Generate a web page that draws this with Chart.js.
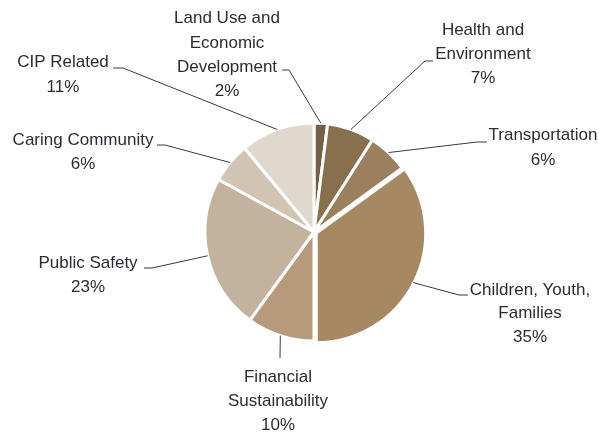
<!DOCTYPE html>
<html>
<head>
<meta charset="utf-8">
<script src="https://cdn.jsdelivr.net/npm/chart.js@4"></script>
<style>
  html, body { margin: 0; padding: 0; background: #fff; }
  #wrap { width: 599px; height: 434px; position: relative; }
</style>
</head>
<body>
<div id="wrap"><canvas id="pie"></canvas></div>
<script>
// Share of spending by focus area (percent)
const categories = [
  "Land Use and Economic Development",
  "Health and Environment",
  "Transportation",
  "Children, Youth, Families",
  "Financial Sustainability",
  "Public Safety",
  "Caring Community",
  "CIP Related"
];
const shares = [2, 7, 6, 35, 10, 23, 6, 11];

const COLORS = [
  "#765f45", "#88704f", "#9a805e", "#a68863",
  "#b69a7b", "#c3b29e", "#d2c4b3", "#e0d7cd"
];

// label placement: text lines, centre x, line centres y, and the short tick before the leader
const labelLayout = [
  { lines: ["Land Use and", "Economic", "Development", "2%"], cx: 227, ys: [18, 43, 67, 91], tick: [[282, 70], [289, 70]] },
  { lines: ["Health and", "Environment", "7%"], cx: 483, ys: [30, 54, 78], tick: [[433, 61], [425, 61]] },
  { lines: ["Transportation", "6%"], cx: 543, ys: [135, 160], tick: [[487, 142], [477, 142]] },
  { lines: ["Children, Youth,", "Families", "35%"], cx: 530, ys: [290, 313, 337], tick: [[468, 295], [459, 295]] },
  { lines: ["Financial", "Sustainability", "10%"], cx: 278, ys: [377, 401, 425], tick: [[280, 358], [280, 358]] },
  { lines: ["Public Safety", "23%"], cx: 88, ys: [263, 287], tick: [[144, 268], [152, 268]] },
  { lines: ["Caring Community", "6%"], cx: 83, ys: [140, 164], tick: [[157, 145], [165, 145]] },
  { lines: ["CIP Related", "11%"], cx: 63, ys: [62, 87], tick: [[113, 68], [123, 68]] }
];

const leaderLabels = {
  id: "leaderLabels",
  afterDatasetsDraw(chart) {
    const ctx = chart.ctx;
    const arcs = chart.getDatasetMeta(0).data;
    const offsets = chart.data.datasets[0].offset;
    ctx.save();
    ctx.strokeStyle = "#3a3a42";
    ctx.lineWidth = 1;
    arcs.forEach((arc, i) => {
      const L = labelLayout[i];
      const mid = (arc.startAngle + arc.endAngle) / 2;
      const shift = (offsets[i] || 0) / 4;
      const r = arc.outerRadius;
      const px = arc.x + Math.cos(mid) * (r + shift);
      const py = arc.y + Math.sin(mid) * (r + shift);
      ctx.beginPath();
      ctx.moveTo(L.tick[0][0], L.tick[0][1]);
      ctx.lineTo(L.tick[1][0], L.tick[1][1]);
      ctx.lineTo(px, py);
      ctx.stroke();

      ctx.fillStyle = "#2b2b35";
      ctx.font = "17px 'Liberation Sans', Arial, sans-serif";
      ctx.textAlign = "center";
      ctx.textBaseline = "middle";
      L.lines.forEach((t, k) => ctx.fillText(t, L.cx, L.ys[k]));
    });
    ctx.restore();
  }
};

new Chart(document.getElementById("pie"), {
  type: "pie",
  data: {
    labels: categories,
    datasets: [{
      data: shares,
      backgroundColor: COLORS,
      borderColor: "#ffffff",
      borderWidth: 3,
      offset: [0, 0, 0, 10, 0, 0, 0, 0],
      hoverOffset: 0
    }]
  },
  options: {
    responsive: true,
    maintainAspectRatio: false,
    animation: false,
    radius: 109,
    layout: { padding: { left: 29, right: 0, top: 30, bottom: 0 } },
    plugins: {
      legend: { display: false },
      tooltip: { enabled: false }
    }
  },
  plugins: [leaderLabels]
});
</script>
</body>
</html>
